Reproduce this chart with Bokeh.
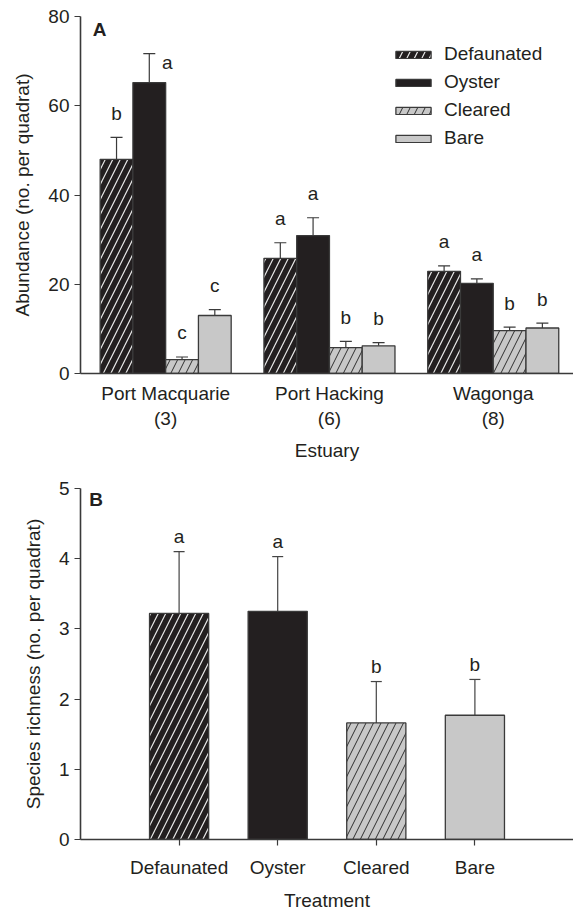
from bokeh.plotting import figure
from bokeh.models import Range1d, FixedTicker, ColumnDataSource, Whisker, TeeHead, Label
from bokeh.layouts import column
from bokeh.embed import file_html
from bokeh.resources import INLINE
from bokeh.core.properties import value

# ---------------- data ----------------
estuaries = ["Port Macquarie", "Port Hacking", "Wagonga"]
estuary_n = ["(3)", "(6)", "(8)"]
treatments = ["Defaunated", "Oyster", "Cleared", "Bare"]

abund_defaunated = [48.0, 25.8, 22.9]
abund_defaunated_se = [4.9, 3.5, 1.2]
abund_oyster = [65.2, 30.9, 20.2]
abund_oyster_se = [6.5, 4.0, 1.0]
abund_cleared = [3.1, 5.8, 9.6]
abund_cleared_se = [0.6, 1.4, 0.8]
abund_bare = [13.0, 6.2, 10.2]
abund_bare_se = [1.3, 0.7, 1.1]

letters_defaunated = ["b", "a", "a"]
letters_oyster = ["a", "a", "a"]
letters_cleared = ["c", "b", "b"]
letters_bare = ["c", "b", "b"]

richness_mean = [3.22, 3.25, 1.66, 1.77]
richness_se = [0.88, 0.78, 0.59, 0.51]
richness_letters = ["a", "a", "b", "b"]

abund_ticks = [0, 20, 40, 60, 80]
rich_ticks = [0, 1, 2, 3, 4, 5]

# ---------------- style ----------------
FONT = "Liberation Sans"
FS = "19px"
INK = "#231f20"
GREY = "#c8c8c8"
AXIS = "#3a3a3a"

styles = {
    "Defaunated": dict(fill_color=INK, hatch_pattern="/", hatch_color="#e8e8e8", hatch_scale=15, hatch_weight=1.2),
    "Oyster": dict(fill_color=INK),
    "Cleared": dict(fill_color=GREY, hatch_pattern="/", hatch_color="#2e2e2e", hatch_scale=15, hatch_weight=1.0),
    "Bare": dict(fill_color=GREY),
}


def style_axes(p):
    for ax in p.axis:
        ax.axis_line_color = AXIS
        ax.axis_line_width = 1.6
        ax.major_tick_line_color = AXIS
        ax.major_tick_line_width = 1.2
        ax.major_tick_in = 0
        ax.major_tick_out = 6
        ax.minor_tick_line_color = None
        ax.major_label_text_font = FONT
        ax.major_label_text_font_size = FS
        ax.major_label_text_color = INK
        ax.axis_label_text_font = FONT
        ax.axis_label_text_font_size = FS
        ax.axis_label_text_font_style = "normal"
        ax.axis_label_text_color = INK
    p.grid.visible = False
    p.outline_line_color = None


# ---------------- panel A ----------------
pA = figure(width=573, height=470, x_range=Range1d(-0.52, 2.49), y_range=Range1d(0, 80),
            output_backend="svg", toolbar_location=None,
            min_border_left=80, min_border_right=0, min_border_top=16, min_border_bottom=97)

means = [abund_defaunated, abund_oyster, abund_cleared, abund_bare]
ses = [abund_defaunated_se, abund_oyster_se, abund_cleared_se, abund_bare_se]
lets = [letters_defaunated, letters_oyster, letters_cleared, letters_bare]
offsets = [-0.3, -0.1, 0.1, 0.3]
ppu_a = 357 / 80.0

for t, m, s, lt, off in zip(treatments, means, ses, lets, offsets):
    xs = [j + off for j in range(len(estuaries))]
    pA.vbar(x=xs, top=m, width=0.2, bottom=0, line_color=AXIS, line_width=1.3,
            legend_label=t, **styles[t])
    src = ColumnDataSource(dict(base=xs, lower=m, upper=[a + b for a, b in zip(m, s)]))
    pA.add_layout(Whisker(source=src, base="base", lower="lower", upper="upper", dimension="height",
                          line_color=AXIS, line_width=1.2, lower_head=None,
                          upper_head=TeeHead(size=12, line_color=AXIS, line_width=1.2)))
    lx, ly = [], []
    for x, a, b in zip(xs, m, s):
        top = a + b
        if top + 24 / ppu_a > 75:
            lx.append(x + 0.11)
            ly.append(top - 2.0)
        else:
            lx.append(x)
            ly.append(top + 24 / ppu_a)
    pA.text(x=lx, y=ly, text=lt, text_font=value(FONT), text_font_size=FS,
            text_align="center", text_baseline="middle", text_color=INK)

pA.add_layout(Label(x=-0.445, y=77.1, text="A", text_font=FONT, text_font_size=FS,
                    text_font_style="bold", text_align="left", text_baseline="middle", text_color=INK))

style_axes(pA)
pA.yaxis.ticker = FixedTicker(ticks=abund_ticks)
pA.yaxis.axis_label = "Abundance (no. per quadrat)"
pA.yaxis.major_label_standoff = 5
pA.yaxis.axis_label_standoff = 12
pA.xaxis.ticker = FixedTicker(ticks=list(range(len(estuaries))))
pA.xaxis.major_label_overrides = {i: f"{e}\n{n}" for i, (e, n) in enumerate(zip(estuaries, estuary_n))}
pA.xaxis.major_tick_out = 0
pA.xaxis.major_tick_line_color = None
pA.xaxis.major_label_standoff = 9
pA.xaxis.axis_label = "Estuary"
pA.xaxis.axis_label_standoff = 8

lg = pA.legend[0]
lg.location = (311, 221)
lg.padding = 0
lg.margin = 0
lg.spacing = 0
lg.glyph_width = 44
lg.glyph_height = 9
lg.label_height = 28
lg.label_standoff = 9
lg.label_text_font = FONT
lg.label_text_font_size = FS
lg.label_text_color = INK
lg.border_line_color = None
lg.background_fill_alpha = 0

# ---------------- panel B ----------------
pB = figure(width=573, height=443, x_range=Range1d(0, 5), y_range=Range1d(0, 5),
            output_backend="svg", toolbar_location=None,
            min_border_left=80, min_border_right=0, min_border_top=18, min_border_bottom=70)

ppu_b = 355 / 5.0
bx = [i + 1 for i in range(len(treatments))]
for x, t, m in zip(bx, treatments, richness_mean):
    pB.vbar(x=[x], top=[m], width=0.6, bottom=0, line_color=AXIS, line_width=1.3, **styles[t])
srcB = ColumnDataSource(dict(base=bx, lower=richness_mean,
                             upper=[a + b for a, b in zip(richness_mean, richness_se)]))
pB.add_layout(Whisker(source=srcB, base="base", lower="lower", upper="upper", dimension="height",
                      line_color="#444444", line_width=1.2, lower_head=None,
                      upper_head=TeeHead(size=11, line_color="#444444", line_width=1.2)))
pB.text(x=bx, y=[a + b + 15 / ppu_b for a, b in zip(richness_mean, richness_se)], text=richness_letters,
        text_font=value(FONT), text_font_size=FS, text_align="center", text_baseline="middle", text_color=INK)

pB.add_layout(Label(x=0.09, y=4.845, text="B", text_font=FONT, text_font_size=FS,
                    text_font_style="bold", text_align="left", text_baseline="middle", text_color=INK))

style_axes(pB)
pB.yaxis.ticker = FixedTicker(ticks=rich_ticks)
pB.yaxis.axis_label = "Species richness (no. per quadrat)"
pB.yaxis.major_label_standoff = 5
pB.yaxis.axis_label_standoff = 12
pB.xaxis.ticker = FixedTicker(ticks=bx)
pB.xaxis.major_label_overrides = {x: t for x, t in zip(bx, treatments)}
pB.xaxis.major_label_standoff = 11
pB.xaxis.axis_label = "Treatment"
pB.xaxis.axis_label_standoff = 9

layout = column(pA, pB, spacing=0)
open("out.html", "w").write(file_html(layout, INLINE))
